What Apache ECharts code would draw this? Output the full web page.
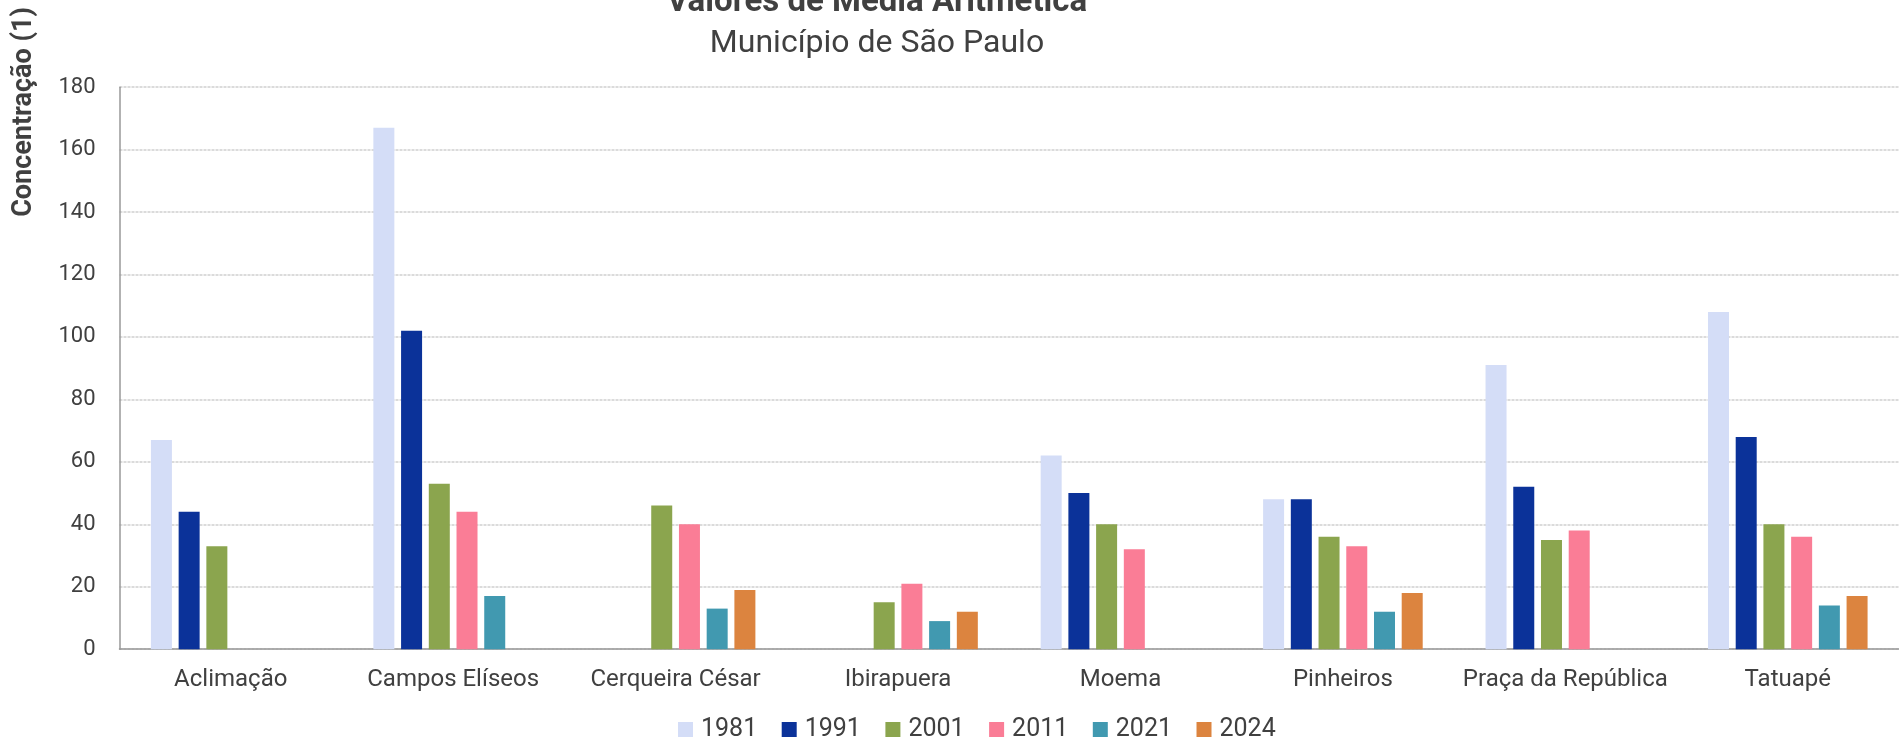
<!DOCTYPE html>
<html>
<head>
<meta charset="utf-8">
<script src="https://cdn.jsdelivr.net/npm/echarts@6/dist/echarts.min.js"></script>
<style>
html,body{margin:0;padding:0;background:#fff;}
#chart{width:1899px;height:740px;}
</style>
</head>
<body>
<div id="chart"></div>
<script>
const categories = ['Aclimação','Campos Elíseos','Cerqueira César','Ibirapuera','Moema','Pinheiros','Praça da República','Tatuapé'];
const years = ['1981','1991','2001','2011','2021','2024'];
const v1981 = [67, 167, null, null, 62, 48, 91, 108];
const v1991 = [44, 102, null, null, 50, 48, 52, 68];
const v2001 = [33, 53, 46, 15, 40, 36, 35, 40];
const v2011 = [null, 44, 40, 21, 32, 33, 38, 36];
const v2021 = [null, 17, 13, 9, null, 12, null, 14];
const v2024 = [null, null, 19, 12, null, 18, null, 17];
const yTicks = [0, 20, 40, 60, 80, 100, 120, 140, 160, 180];
const colors = ['#D4DDF7','#0B3299','#8BA54E','#FA7D96','#4199B0','#DC843F'];
const titleText = 'Valores de Média Aritmética';
const subtitleText = 'Município de São Paulo';
const yName = 'Concentração (1)';

const seriesData = [v1981, v1991, v2001, v2011, v2021, v2024];
const chart = echarts.init(document.getElementById('chart'), null, {renderer: 'canvas'});
const font = 'Roboto';
chart.setOption({
  animation: false,
  textStyle: {fontFamily: font},
  color: colors,
  grid: {left: 119.5, top: 87.2, width: 1798, height: 562, containLabel: false},
  graphic: [
    {type: 'text', x: 877, y: 3, style: {text: titleText, font: 'bold 33px Roboto', fill: '#404040', textAlign: 'center', textVerticalAlign: 'middle'}},
    {type: 'text', x: 877, y: 44, style: {text: subtitleText, font: '32px Roboto', fill: '#404040', textAlign: 'center', textVerticalAlign: 'middle'}},
    {type: 'text', x: 24, y: 112, rotation: Math.PI / 2, style: {text: yName, font: 'bold 27px Roboto', fill: '#404040', textAlign: 'center', textVerticalAlign: 'middle'}}
  ],
  legend: {
    left: 678, top: 717, padding: 0,
    icon: 'rect', itemWidth: 15, itemHeight: 15, itemGap: 24.5,
    textStyle: {fontSize: 25, color: '#404040', fontFamily: font, padding: [0, 0, 0, 3]},
    data: years
  },
  xAxis: {
    type: 'category', data: categories,
    axisTick: {show: false},
    axisLine: {lineStyle: {color: '#999', width: 1.5}},
    axisLabel: {fontSize: 24, color: '#404040', margin: 19, interval: 0}
  },
  yAxis: {
    type: 'value', min: yTicks[0], max: yTicks[yTicks.length - 1], interval: yTicks[1] - yTicks[0],
    axisLine: {show: true, lineStyle: {color: '#999', width: 1.5}},
    axisTick: {show: false},
    axisLabel: {fontSize: 22, color: '#404040', margin: 24},
    splitLine: {lineStyle: {color: '#cfcfcf', width: 1.5, type: [3, 1]}}
  },
  series: years.map((y, i) => ({
    name: y, type: 'bar', data: seriesData[i],
    barWidth: 21, barGap: '32%',
    itemStyle: {color: colors[i]}
  }))
});
</script>
</body>
</html>
